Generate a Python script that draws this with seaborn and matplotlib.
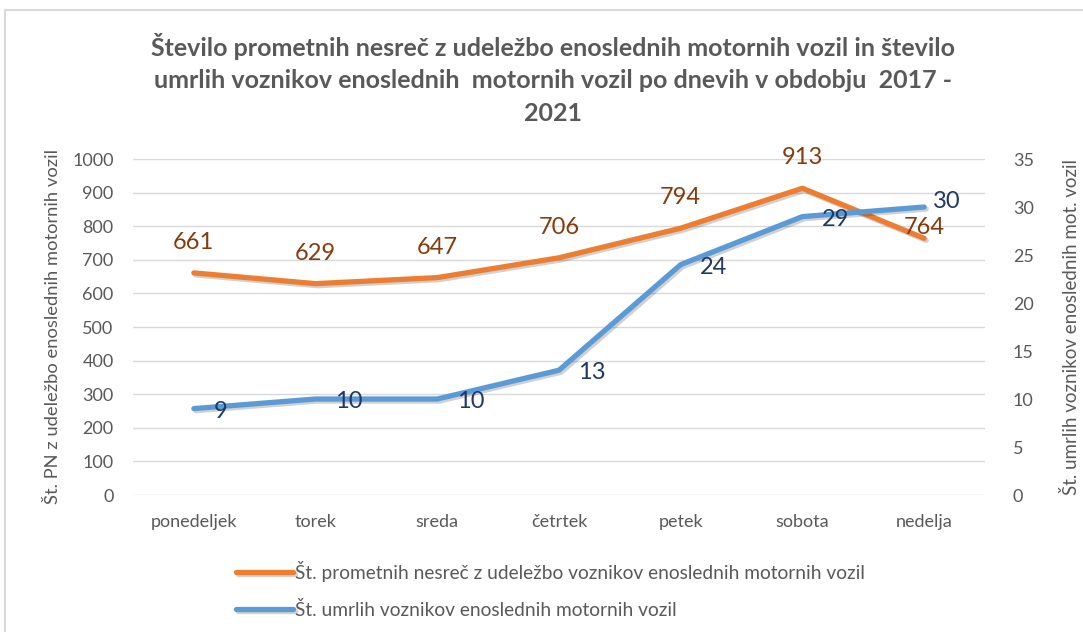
import matplotlib
matplotlib.use("Agg")
import matplotlib.pyplot as plt
import matplotlib.patheffects as pe
from matplotlib.patches import Rectangle
import seaborn as sns
import pandas as pd

# data
dnevi = ['ponedeljek', 'torek', 'sreda', 'četrtek', 'petek', 'sobota', 'nedelja']
nesrece = [661, 629, 647, 706, 794, 913, 764]
umrli = [9, 10, 10, 13, 24, 29, 30]

naslov = ('Število prometnih nesreč z udeležbo enoslednih motornih vozil in število\n'
          'umrlih voznikov enoslednih  motornih vozil po dnevih v obdobju  2017 -\n'
          '2021')
oznaka_levo = 'Št. PN z udeležbo enoslednih motornih vozil'
oznaka_desno = 'Št. umrlih voznikov enoslednih mot. vozil'
legenda_nesrece = 'Št. prometnih nesreč z udeležbo voznikov enoslednih motornih vozil'
legenda_umrli = 'Št. umrlih voznikov enoslednih motornih vozil'

# label offsets (points), as placed in the original chart
odmik_nesrece = [(0, 22)] * 6 + [(0, 8)]
odmik_umrli = [(14, -2)] * 6 + [(6, 4)]

df = pd.DataFrame({'dan': dnevi, 'nesrece': nesrece, 'umrli': umrli})

sns.set_theme(style='white')
plt.rcParams['font.family'] = ['Lato', 'DejaVu Sans']

ORANGE = '#ED7D31'
BLUE = '#5B9BD5'
GREY = '#595959'

fig = plt.figure(figsize=(10.83, 6.32), dpi=100)
ax = fig.add_axes([133 / 1083, 1 - 495 / 632, 852 / 1083, 336 / 632])
ax2 = ax.twinx()

shadow = [pe.SimpleLineShadow(offset=(1.5, -1.5), alpha=0.2), pe.Normal()]

sns.lineplot(data=df, x='dan', y='nesrece', ax=ax, color=ORANGE, linewidth=3.8,
             label=legenda_nesrece, legend=False, solid_capstyle='round',
             path_effects=shadow, zorder=3)
sns.lineplot(data=df, x='dan', y='umrli', ax=ax2, color=BLUE, linewidth=3.8,
             label=legenda_umrli, legend=False, solid_capstyle='round',
             path_effects=shadow, zorder=3)

ax.set_ylim(0, 1000)
ax.set_yticks(range(0, 1001, 100))
ax2.set_ylim(0, 35)
ax2.set_yticks(range(0, 36, 5))
ax.set_xlim(-0.5, len(dnevi) - 0.5)

ax.grid(axis='y', color='#D9D9D9', linewidth=1)
ax.grid(axis='x', visible=False)
ax2.grid(False)
for a in (ax, ax2):
    for s in a.spines.values():
        s.set_visible(False)
    a.tick_params(length=0, labelsize=13, colors=GREY)
ax.tick_params(axis='y', pad=14)
ax2.tick_params(axis='y', pad=20)
ax.tick_params(axis='x', pad=14)

ax.set_xlabel('')
ax.set_ylabel(oznaka_levo, fontsize=13.2, color=GREY, labelpad=8)
ax2.set_ylabel(oznaka_desno, fontsize=13.5, color=GREY, labelpad=20)

# data labels
for i, v in enumerate(nesrece):
    ax.annotate(str(v), (i, v), xytext=odmik_nesrece[i], textcoords='offset points',
                ha='center', va='center', fontsize=17, color='#843C0C', zorder=4)
for i, v in enumerate(umrli):
    ax2.annotate(str(v), (i, v), xytext=odmik_umrli[i], textcoords='offset points',
                 ha='left', va='center', fontsize=17, color='#203864', zorder=4)

fig.text(553 / 1083, 1 - 33 / 632, naslov, ha='center', va='top', fontsize=18,
         fontweight='bold', color=GREY, linespacing=1.5)

h1, l1 = ax.get_legend_handles_labels()
h2, l2 = ax2.get_legend_handles_labels()
fig.legend(h1 + h2, l1 + l2, loc='upper left', bbox_to_anchor=(228 / 1083, 1 - 553 / 632),
           frameon=False, fontsize=13.8, labelcolor=GREY, handlelength=3.0,
           handletextpad=0.1, labelspacing=1.0, borderaxespad=0)

fig.patches.append(Rectangle((5 / 1083, -0.1), 1.2, 1 - 10 / 632 + 0.1, transform=fig.transFigure,
                             fill=False, edgecolor='#D9D9D9', linewidth=1.5))

fig.savefig('out.png', dpi=100)
